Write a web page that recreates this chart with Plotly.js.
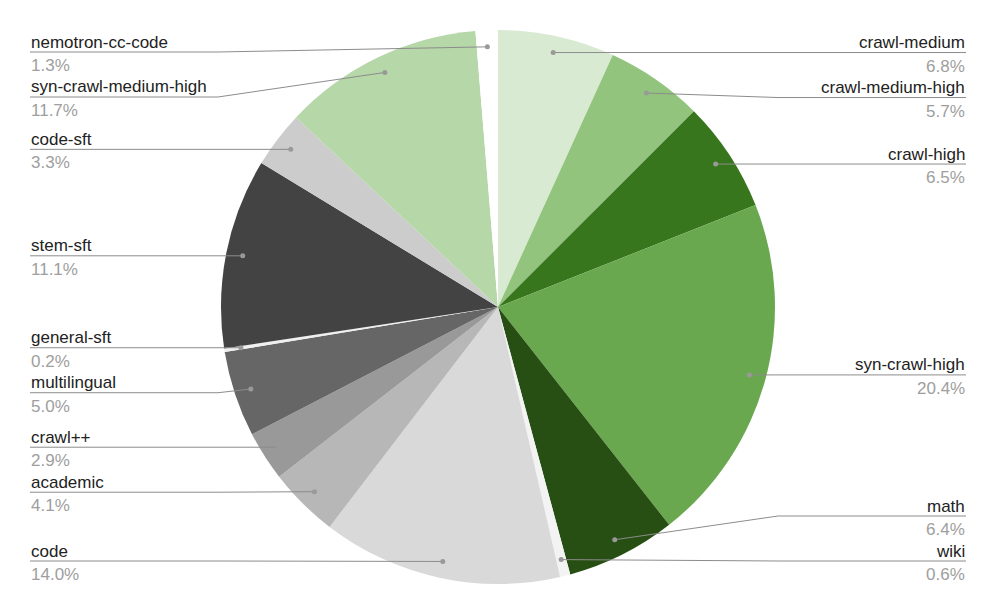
<!DOCTYPE html>
<html>
<head>
<meta charset="utf-8">
<script src="https://cdn.plot.ly/plotly-3.0.1.min.js"></script>
<style>html,body{margin:0;padding:0;background:#fff;}#chart{width:996px;height:614px;}</style>
</head>
<body>
<div id="chart"></div>
<script>
// ---- data ----
const labels = ["crawl-medium","crawl-medium-high","crawl-high","syn-crawl-high","math","wiki","code","academic","crawl++","multilingual","general-sft","stem-sft","code-sft","syn-crawl-medium-high","nemotron-cc-code"];
const values = [6.8,5.7,6.5,20.4,6.4,0.6,14.0,4.1,2.9,5.0,0.2,11.1,3.3,11.7,1.3];
const colors = ["#d9ead3","#93c47d","#38761d","#6aa84f","#274e13","#f3f3f3","#d9d9d9","#b7b7b7","#999999","#666666","#efefef","#434343","#cccccc","#b6d7a8","#ffffff"];

// ---- layout geometry ----
const W = 996, H = 614;
const CX = 498, CY = 307, R = 277;
const DOT_R = 0.94 * R;
const GAP = 45, YMIN = 52, YMAX = 561;
const LEFT_X = 30, RIGHT_X = 966, LEFT_ELBOW = 218, RIGHT_ELBOW = 778;
const FONT = "Liberation Sans, Arial, sans-serif";

const px = x => x / W;
const py = y => 1 - y / H;

const total = values.reduce((a, b) => a + b, 0);
let cum = 0;
const items = values.map((v, i) => {
  const f = (cum + v / 2) / total;
  cum += v;
  const th = 2 * Math.PI * f;
  const dx = CX + DOT_R * Math.sin(th);
  const dy = CY - DOT_R * Math.cos(th);
  return {i, dx, dy, side: dx >= CX ? 'r' : 'l', ly: dy};
});

function resolve(list) {
  list.sort((a, b) => a.dy - b.dy);
  let prev = -Infinity;
  list.forEach(it => { it.ly = Math.max(it.dy, YMIN, prev + GAP); prev = it.ly; });
  let next = Infinity;
  for (let k = list.length - 1; k >= 0; k--) {
    const it = list[k];
    it.ly = Math.min(it.ly, YMAX, next - GAP); next = it.ly;
  }
}
resolve(items.filter(it => it.side === 'r'));
resolve(items.filter(it => it.side === 'l'));

const shapes = [], annotations = [];
items.forEach(it => {
  const left = it.side === 'l';
  const edge = left ? LEFT_X : RIGHT_X;
  const elbow = left ? LEFT_ELBOW : RIGHT_ELBOW;
  shapes.push({type: 'path', xref: 'paper', yref: 'paper',
    path: `M ${px(it.dx)},${py(it.dy)} L ${px(elbow)},${py(it.ly)} L ${px(edge)},${py(it.ly)}`,
    line: {color: '#8c8c8c', width: 1}});
  shapes.push({type: 'circle', xref: 'paper', yref: 'paper',
    x0: px(it.dx - 2.5), x1: px(it.dx + 2.5), y0: py(it.dy + 2.5), y1: py(it.dy - 2.5),
    fillcolor: '#999999', line: {width: 0}});
  annotations.push({xref: 'paper', yref: 'paper', x: px(edge), y: py(it.ly + 0.5),
    xanchor: left ? 'left' : 'right', yanchor: 'bottom', showarrow: false,
    text: labels[it.i], font: {family: FONT, size: 17, color: '#222222'}, borderpad: 0});
  annotations.push({xref: 'paper', yref: 'paper', x: px(edge), y: py(it.ly + 3),
    xanchor: left ? 'left' : 'right', yanchor: 'top', showarrow: false,
    text: values[it.i].toFixed(1) + '%', font: {family: FONT, size: 17, color: '#9e9e9e'}, borderpad: 0});
});

const trace = {
  type: 'pie', labels: labels, values: values, sort: false, direction: 'clockwise', rotation: 0,
  marker: {colors: colors, line: {width: 0}}, textinfo: 'none', hoverinfo: 'label+percent',
  domain: {x: [px(CX - R), px(CX + R)], y: [py(CY + R), py(CY - R)]}, showlegend: false
};

Plotly.newPlot('chart', [trace], {
  width: W, height: H, margin: {l: 0, r: 0, t: 0, b: 0},
  paper_bgcolor: '#ffffff', showlegend: false, shapes: shapes, annotations: annotations,
  font: {family: FONT}
}, {displayModeBar: false, staticPlot: true});
</script>
</body>
</html>
